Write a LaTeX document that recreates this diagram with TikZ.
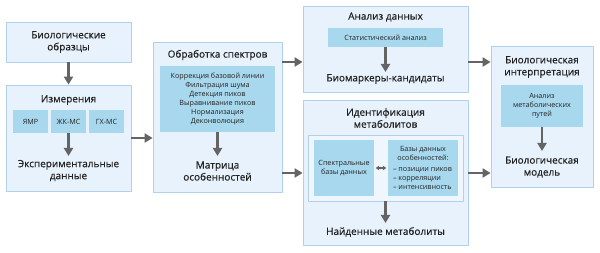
\documentclass[tikz,border=0pt]{standalone}
\usepackage{fontspec}
\setmainfont{Open Sans}
\newfontfamily\titlefont{Open Sans}[FakeBold=0.5]
\usetikzlibrary{arrows.meta}
\definecolor{Ofill}{RGB}{232,242,252}
\definecolor{Oline}{RGB}{176,208,238}
\definecolor{Ifill}{RGB}{168,216,238}
\definecolor{Ffill}{RGB}{240,246,253}
\definecolor{Agray}{RGB}{100,100,100}
\definecolor{Tdark}{RGB}{34,34,34}

\begin{document}
\begin{tikzpicture}[x=1pt,y=-1pt,line cap=round,line join=round,
  outerbox/.style={draw=Oline,fill=Ofill,line width=0.8pt,inner sep=0pt},
  innerbox/.style={fill=Ifill,inner sep=0pt,font=\fontsize{7.2}{9}\selectfont,text=Tdark,align=center},
  framebox/.style={draw=Oline,fill=Ffill,line width=0.8pt,inner sep=0pt},
  title/.style={font=\titlefont\fontsize{10}{12}\selectfont,text=Tdark,align=center},
  arr/.style={draw=Agray,line width=2.2pt,line cap=butt,-{Triangle[length=8pt,width=9pt]}},
  darr/.style={draw=Agray,line width=1.3pt,line cap=butt,{Triangle[length=3.5pt,width=4.5pt]}-{Triangle[length=3.5pt,width=4.5pt]}}]
\path[use as bounding box] (0,0) rectangle (600,253);
% samples
\node[outerbox,minimum width=125pt,minimum height=40pt] (samples) at (68.5,42) {};
\node[title] at (68.5,42) {Биологические\\образцы};
% measurements
\node[outerbox,minimum width=125pt,minimum height=106pt] (meas) at (68.5,138) {};
\node[title] at (68.5,100) {Измерения};
\node[innerbox,minimum width=35pt,minimum height=23pt] (nmr) at (30.5,121.5) {ЯМР};
\node[innerbox,minimum width=35pt,minimum height=23pt] (lcms) at (68.5,121.5) {ЖК-МС};
\node[innerbox,minimum width=35pt,minimum height=23pt] (gcms) at (106.5,121.5) {ГХ-МС};
\node[title] (expdata) at (68.5,170.5) {Экспериментальные\\данные};
% processing
\node[outerbox,minimum width=129pt,minimum height=150pt] (proc) at (217.5,117) {};
\node[title] at (217.5,55) {Обработка спектров};
\node[innerbox,minimum width=115pt,minimum height=66pt] (steps) at (217.5,99)
  {Коррекция базовой линии\\Фильтрация шума\\Детекция пиков\\Выравнивание пиков\\Нормализация\\Деконволюция};
\node[title] (matrix) at (217.5,171) {Матрица\\особенностей};
% analysis
\node[outerbox,minimum width=165pt,minimum height=86pt] (anal) at (385.5,49) {};
\node[title] at (385.5,17) {Анализ данных};
\node[innerbox,minimum width=115pt,minimum height=19pt] (stat) at (385.5,37.5) {Статистический анализ};
\node[title] (markers) at (385.5,79) {Биомаркеры-кандидаты};
% identification
\node[outerbox,minimum width=165pt,minimum height=145pt] (ident) at (385.5,172.5) {};
\node[title] at (385.5,118) {Идентификация\\метаболитов};
\node[framebox,minimum width=155pt,minimum height=66pt] (dbframe) at (385.5,168) {};
\node[innerbox,minimum width=60pt,minimum height=56pt] (specdb) at (344,168) {Спектральные\\базы данных};
\node[innerbox,minimum width=70pt,minimum height=56pt] (featdb) at (423,168)
  {Базы данных\\особенностей:\\[2pt]\hspace*{4pt}\parbox[t]{64pt}{\raggedright – позиции пиков\\– корреляции\\– интенсивность}};
\node[title] (found) at (385.5,232) {Найденные метаболиты};
% interpretation
\node[outerbox,minimum width=102pt,minimum height=141pt] (interp) at (542,116.5) {};
\node[title] at (542,67) {Биологическая\\интерпретация};
\node[innerbox,minimum width=82pt,minimum height=42pt] (path) at (542,106) {Анализ\\метаболических\\путей};
\node[title] (model) at (542,167) {Биологическая\\модель};
% arrows
\coordinate (r1) at (0,62);
\coordinate (r2) at (0,173);
\draw[arr] (samples.south) -- (meas.north);
\draw[arr] (lcms.south) -- (68.5,156);
\draw[arr] (steps.south) -- (217.5,156);
\draw[arr] (stat.south) -- (385.5,72);
\draw[arr] (dbframe.south) -- (385.5,223);
\draw[arr] (path.south) -- (542,151);
\draw[darr] ([xshift=1.5pt]specdb.east) -- ([xshift=-1.5pt]featdb.west);
\draw[arr] (meas.east) -- (proc.west |- meas.east);
\draw[arr] (proc.east |- r1) -- (anal.west |- r1);
\draw[arr] (proc.east |- r2) -- (ident.west |- r2);
\draw[arr] (anal.east |- r1) -- (interp.west |- r1);
\draw[arr] (ident.east |- r2) -- (interp.west |- r2);
\end{tikzpicture}
\end{document}
